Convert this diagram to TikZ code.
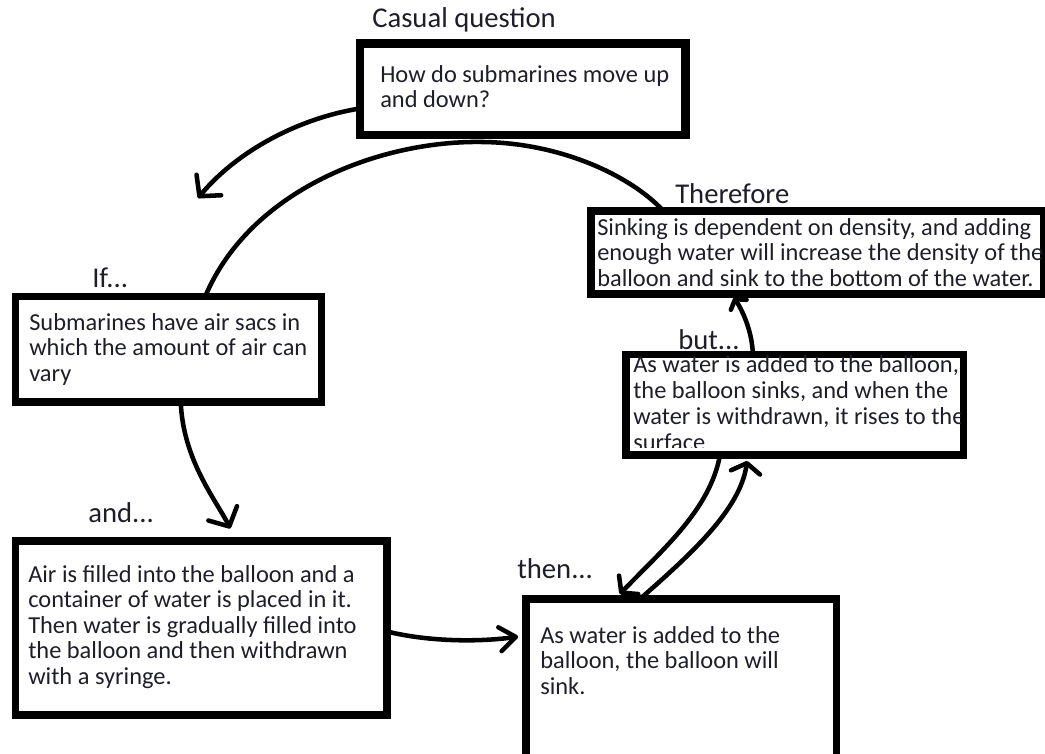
\documentclass[tikz,border=0pt]{standalone}
\usepackage{fontspec}
\setmainfont{Carlito}
\usetikzlibrary{arrows.meta,fit,calc}
\definecolor{ink}{RGB}{30,30,40}
\begin{document}
\begin{tikzpicture}[x=0.75pt,y=-0.75pt,
  box/.style={draw=black, line width=5.5pt, inner sep=0pt, outer sep=0pt},
  body/.style={anchor=north west, inner sep=0pt, align=left, text=ink,
    font=\fontsize{18.3}{19.1}\selectfont},
  tag/.style={anchor=base west, inner sep=0pt, text=ink,
    font=\fontsize{21.5}{25}\selectfont},
  link/.style={line width=3.4pt, line cap=round, line join=round},
  barb/.style 2 args={-{Straight Barb[round,length=#1,width=#2]}}]

\clip (0,0) rectangle (1045,753);

% boxes
\node (qbox) [box, line width=6.5pt, fit={(360,43.5) (685.5,135)}] {};
\node (tbox) [box, line width=6pt, fit={(591,211) (1044,293.5)}] {};
\node (bbox) [box, fit={(626,354.5) (963.5,455)}] {};
\node (nbox) [box, fit={(526,599) (836.5,762)}] {};
\node (abox) [box, fit={(15.5,541) (387,715)}] {};
\node (ibox) [box, fit={(15.5,296.5) (321.5,402)}] {};

% box texts
\node (qtext) [body] at (380,64.2) {\strut How do submarines move up\\and down?};
\node (ttext) [body] at (597,217.2) {\strut Sinking is dependent on density, and adding\\enough water will increase the density of the\\balloon and sink to the bottom of the water.};
\begin{scope}
  % the text frame is shorter than the box, so the last line is cut off
  \clip (bbox.north west) rectangle ($(bbox.south east)+(-3,-8)$);
  \node (btext) [body, font=\fontsize{18.3}{19.4}\selectfont] at (633,354.2)
    {\strut As water is added to the balloon,\\the balloon sinks, and when the\\water is withdrawn, it rises to the\\surface};
\end{scope}
\node (ntext) [body] at (540,625.2) {\strut As water is added to the\\balloon, the balloon will\\sink.};
\node (atext) [body] at (28,564.2) {\strut Air is filled into the balloon and a\\container of water is placed in it.\\Then water is gradually filled into\\the balloon and then withdrawn\\with a syringe.};
\node (itext) [body] at (29,312.2) {\strut Submarines have air sacs in\\which the amount of air can\\vary};

% labels
\node (casual) [tag] at (372,27) {Casual question};
\node (therefore) [tag] at (675,203) {Therefore};
\node (if) [tag] at (92,287) {If...};
\node (but) [tag] at (678,349) {but...};
\node (and) [tag] at (88,522) {and...};
\node (then) [tag] at (517,578) {then...};

% connectors
\coordinate (qtip) at (198,198);
\draw[link, barb={11pt}{24pt}]
  ($(qbox.north west)!0.71!(qbox.south west)$)
  .. controls (300,118) and (238,150) .. (qtip);
\draw[link]
  ($(ibox.north west)!0.62!(ibox.north east)$)
  .. controls (250,190) and (380,140) .. (483,142)
  .. controls (560,143) and (630,175) .. ($(tbox.north west)!0.16!(tbox.north east)$);
\draw[link, barb={11pt}{24pt}, shorten >=10.5pt]
  ($(ibox.south west)!0.54!(ibox.south east)$)
  .. controls (183,460) and (216,500) .. ($(abox.north west)!0.595!(abox.north east)$);
\draw[link, barb={12pt}{18pt}, shorten >=6pt]
  ($(abox.north east)!0.52!(abox.south east)$)
  .. controls (430,642) and (480,642) .. ($(nbox.north west)!0.224!(nbox.south west)$);
\draw[link, barb={8pt}{20pt}, shorten >=5pt]
  ($(bbox.south west)!0.2785!(bbox.south east)$)
  .. controls (710,510) and (662,550) .. ($(nbox.north west)!0.287!(nbox.north east)$);
\draw[link, barb={7pt}{22pt}, shorten >=4.5pt]
  ($(nbox.north west)!0.367!(nbox.north east)$)
  .. controls (690,555) and (740,510) .. ($(bbox.south west)!0.3615!(bbox.south east)$);
\draw[link, barb={5pt}{14pt}, shorten >=3.4pt]
  ($(bbox.north west)!0.376!(bbox.north east)$)
  .. controls (752,330) and (742,310) .. ($(tbox.south west)!0.31!(tbox.south east)$);
\end{tikzpicture}
\end{document}
